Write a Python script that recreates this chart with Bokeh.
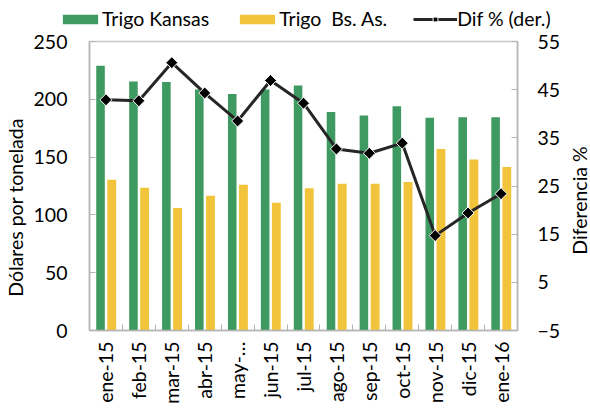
import numpy as np
from bokeh.plotting import figure
from bokeh.layouts import column, row
from bokeh.models import (Range1d, LinearAxis, FixedTicker, CustomJSTickFormatter,
                          Legend, LegendItem, ColumnDataSource, Label)
from bokeh.transform import dodge
from bokeh.embed import file_html
from bokeh.resources import INLINE

meses = ["ene-15", "feb-15", "mar-15", "abr-15", "may-…", "jun-15", "jul-15",
         "ago-15", "sep-15", "oct-15", "nov-15", "dic-15", "ene-16"]
kansas = [229, 215.5, 215, 208.5, 204.5, 208.5, 212, 189, 186, 194, 184, 184.5, 184.5]
bsas = [130.5, 123.5, 106, 116.5, 126, 110.5, 123, 127, 127, 128.5, 157, 148, 141.5]
dif = [42.9, 42.7, 50.6, 44.3, 38.5, 46.9, 42.2, 32.7, 31.8, 33.9, 14.7, 19.4, 23.4]
left_ticks = [0, 50, 100, 150, 200, 250]
right_ticks = [-5, 5, 15, 25, 35, 45, 55]
series_names = ["Trigo Kansas", "Trigo  Bs. As.", "Dif % (der.)"]
left_title = "Dólares por tonelada"
right_title = "Diferencia %"

FONT = "Lato"
FS = "19.5px"
GREEN = "#3E9A61"
YELLOW = "#F2C43B"
GREY = "#B4B4B4"
LINE = "#262626"

n = len(meses)
idx = [i + 0.5 for i in range(n)]
src = ColumnDataSource(dict(x=idx, kansas=kansas, bsas=bsas, dif=dif))

LW, RW, TOTAL_H = 27, 24, 407
MW = 590 - LW - RW

# ---------------- main chart ----------------
p = figure(width=MW, height=377, output_backend="svg", toolbar_location=None,
           x_range=Range1d(0, n), y_range=Range1d(0, 250),
           min_border_left=89 - LW, min_border_right=(590 - RW) - 517,
           min_border_top=11, min_border_bottom=77)
p.extra_y_ranges = {"der": Range1d(-5, 55)}
p.xgrid.visible = False
p.ygrid.visible = False
p.outline_line_color = "#C8C8C8"
p.outline_line_width = 1.5

p.vbar(x=dodge("x", -0.165, range=p.x_range), top="kansas", bottom=0, width=0.26,
       source=src, fill_color=GREEN, line_color=None)
p.vbar(x=dodge("x", 0.175, range=p.x_range), top="bsas", bottom=0, width=0.27,
       source=src, fill_color=YELLOW, line_color=None)
p.line(x="x", y="dif", source=src, y_range_name="der", line_color=LINE, line_width=3)
p.scatter(x="x", y="dif", source=src, y_range_name="der", marker="square", angle=np.pi / 4,
          size=8.5, fill_color="black", line_color="white", line_width=1)

# x axis
xa = p.xaxis[0]
xa.ticker = FixedTicker(ticks=idx, minor_ticks=list(range(1, n)))
xa.formatter = CustomJSTickFormatter(args=dict(labels=meses), code="return labels[Math.floor(tick)];")
xa.major_label_orientation = np.pi / 2
xa.major_tick_in = 0
xa.major_tick_out = 0
xa.minor_tick_in = 6
xa.minor_tick_out = 0
xa.minor_tick_line_color = GREY
xa.axis_line_color = GREY
xa.axis_line_width = 1.5
xa.major_label_standoff = 11
xa.major_label_text_font = FONT
xa.major_label_text_font_size = FS
xa.major_label_text_color = "black"

# left axis
ya = p.yaxis[0]
ya.ticker = FixedTicker(ticks=left_ticks)
ya.major_tick_in = 6
ya.major_tick_out = 0
ya.minor_tick_line_color = None
ya.major_tick_line_color = GREY
ya.axis_line_color = GREY
ya.axis_line_width = 1.5
ya.major_label_standoff = 22
ya.major_label_text_font = FONT
ya.major_label_text_font_size = FS
ya.major_label_text_color = "black"

# right axis
ra = LinearAxis(y_range_name="der", ticker=FixedTicker(ticks=right_ticks))
ra.major_tick_in = 6
ra.major_tick_out = 0
ra.minor_tick_line_color = None
ra.major_tick_line_color = GREY
ra.axis_line_color = GREY
ra.axis_line_width = 1.5
ra.major_label_standoff = 20
ra.major_label_text_font = FONT
ra.major_label_text_font_size = FS
ra.major_label_text_color = "black"
p.add_layout(ra, "right")

# ---------------- legend strip ----------------
# same series, on a y range far outside their values, so only the legend shows
leg = figure(width=MW, height=30, output_backend="svg", toolbar_location=None,
             x_range=Range1d(0, n), y_range=Range1d(1000, 1001), min_border=0,
             min_border_left=0, min_border_right=0, min_border_top=0, min_border_bottom=0,
             x_axis_location=None, y_axis_location=None)
leg.frame_align = False
leg.xgrid.visible = False
leg.ygrid.visible = False
leg.outline_line_color = None
g1 = leg.vbar(x="x", top="kansas", bottom=0, width=0.26, source=src, fill_color=GREEN, line_color=None)
g2 = leg.vbar(x="x", top="bsas", bottom=0, width=0.27, source=src, fill_color=YELLOW, line_color=None)
g3 = leg.line(x="x", y="dif", source=src, line_color=LINE, line_width=3)
g4 = leg.scatter(x="x", y="dif", source=src, marker="square", angle=np.pi / 4, size=8,
                 fill_color="black", line_color="white", line_width=1)

legend = Legend(items=[LegendItem(label=series_names[0], renderers=[g1]),
                       LegendItem(label=series_names[1], renderers=[g2]),
                       LegendItem(label=series_names[2], renderers=[g3, g4])],
                location=(58 - LW, 0), orientation="horizontal", glyph_width=44,
                glyph_height=12, label_standoff=0, padding=0, margin=0, spacing=26,
                border_line_color=None, background_fill_alpha=0, label_height=18,
                label_text_font=FONT, label_text_font_size=FS, label_text_color="black")
leg.add_layout(legend, "center")


# ---------------- side strips with the axis titles ----------------
def side_strip(w, text, x, y):
    f = figure(width=w, height=TOTAL_H, output_backend="svg", toolbar_location=None,
               x_range=Range1d(0, 1), y_range=Range1d(0, 1), min_border=0,
               min_border_left=0, min_border_right=0, min_border_top=0, min_border_bottom=0,
               x_axis_location=None, y_axis_location=None)
    f.frame_align = False
    f.xgrid.visible = False
    f.ygrid.visible = False
    f.outline_line_color = None
    f.add_layout(Label(x=x, y=y, x_units="screen", y_units="screen", text=text,
                       angle=np.pi / 2, text_align="center", text_baseline="middle",
                       text_font=FONT, text_font_size=FS, text_color="black"))
    return f


lfig = side_strip(LW, left_title, 14.5, TOTAL_H - 207)
rfig = side_strip(RW, right_title, 12.5, TOTAL_H - 200)

layout = row(lfig, column(leg, p, spacing=0), rfig, spacing=0)
open("out.html", "w").write(file_html(layout, INLINE))
